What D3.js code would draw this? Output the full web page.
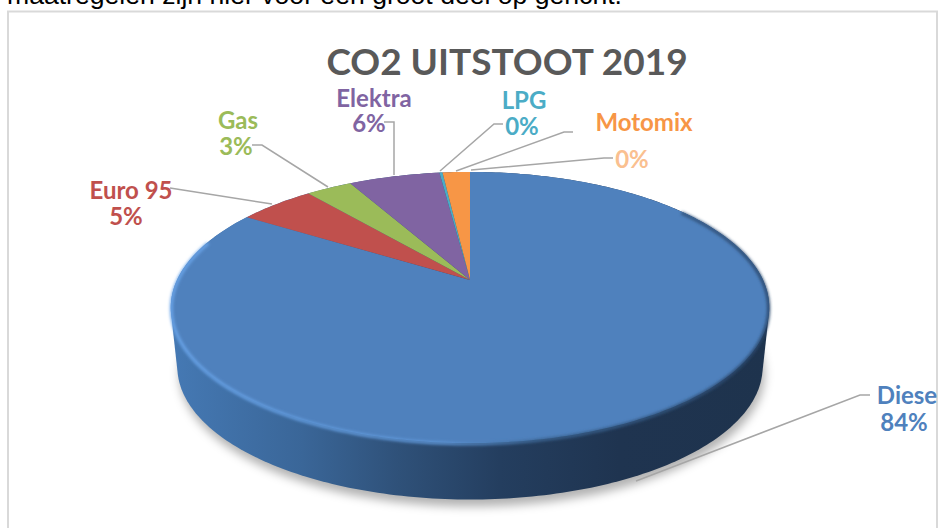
<!DOCTYPE html>
<html>
<head>
<meta charset="utf-8">
<script src="https://cdn.jsdelivr.net/npm/d3@7"></script>
<style>
  html, body { margin: 0; padding: 0; background: #fff; overflow: hidden; }
</style>
</head>
<body>
<svg id="chart" width="939" height="528"></svg>
<script>
// Data
const categories = ['Diesel', 'Euro 95', 'Gas', 'Elektra', 'LPG', 'Motomix'];
const values = [84, 5, 3, 6, 0.2, 1.8];
const colors = ['#4f81bd', '#c0504d', '#9bbb59', '#8064a2', '#4bacc6', '#f79646'];

const chartTitle = 'CO2 UITSTOOT 2019';
const bodyText = 'maatregelen zijn hier voor een groot deel op gericht.';

// Label lines: [text, colour, centre x, baseline y]
const labelLines = [
  ['Diesel', '#4f81bd', 910, 404],
  ['84%', '#4f81bd', 904, 431],
  ['Euro 95', '#c0504d', 131, 199],
  ['5%', '#c0504d', 126, 225],
  ['Gas', '#9bbb59', 238, 129],
  ['3%', '#9bbb59', 236, 155],
  ['Elektra', '#8064a2', 374, 107],
  ['6%', '#8064a2', 369, 132],
  ['LPG', '#4bacc6', 524, 109],
  ['0%', '#4bacc6', 522, 135],
  ['Motomix', '#f79646', 644, 131],
  ['0%', '#fac090', 632, 168]
];

// Leader lines from the labels to the slices
const leaders = [
  [[170, 188], [272, 204]],
  [[252, 145], [262, 145], [328, 187]],
  [[384, 122], [394, 122], [394, 175]],
  [[503, 124], [494, 124], [440, 171]],
  [[573, 132], [564, 132], [456, 171]],
  [[613, 158], [604, 158], [471, 170]],
  [[870, 395], [860, 395], [636, 481]]
];

// Shading of the side wall, left to right
const wallStops = [
  [0, '#4579b4'],
  [0.22, '#3a6698'],
  [0.38, '#2f5179'],
  [0.55, '#243e5f'],
  [0.75, '#1f3450'],
  [1, '#1e334d']
];

const svg = d3.select('#chart');
const defs = svg.append('defs');

// Perspective projection of the pie: angle 0 is up, clockwise
const cx = 470, cy = 280;
const scaleX = 293, scaleY = 130, tilt = 0.203;
const depth = 60, bottomScale = 0.978;

function project(angle, shift, scale) {
  const u = Math.sin(angle), v = Math.cos(angle);
  const w = 1 + tilt * v;
  return [cx + scale * scaleX * u / w, cy + shift - scale * scaleY * v / w];
}

const tau = Math.PI * 2;
const step = tau / 360;
const line = d3.line();

function rim(a0, a1, shift, scale) {
  const n = Math.max(2, Math.ceil((a1 - a0) / step));
  return d3.range(n + 1).map(i => project(a0 + (a1 - a0) * i / n, shift, scale));
}

// Gradients and blurs
const wallGrad = defs.append('linearGradient')
  .attr('id', 'wallGrad')
  .attr('gradientUnits', 'userSpaceOnUse')
  .attr('x1', cx - 299).attr('x2', cx + 299).attr('y1', 0).attr('y2', 0);
wallGrad.selectAll('stop').data(wallStops).join('stop')
  .attr('offset', d => d[0])
  .attr('stop-color', d => d[1]);

const bevelGrad = defs.append('linearGradient')
  .attr('id', 'bevelGrad')
  .attr('gradientUnits', 'userSpaceOnUse')
  .attr('x1', cx - 299).attr('x2', cx + 299).attr('y1', 0).attr('y2', 0);
bevelGrad.append('stop').attr('offset', 0).attr('stop-color', '#6aa5ea');
bevelGrad.append('stop').attr('offset', 0.45).attr('stop-color', '#5f97d8');
bevelGrad.append('stop').attr('offset', 0.62).attr('stop-color', '#3b6593');
bevelGrad.append('stop').attr('offset', 1).attr('stop-color', '#2a476c');

defs.append('filter').attr('id', 'shadowBlur')
  .attr('x', '-10%').attr('y', '-10%').attr('width', '120%').attr('height', '120%')
  .append('feGaussianBlur').attr('stdDeviation', 5);
defs.append('filter').attr('id', 'bevelBlur')
  .attr('x', '-5%').attr('y', '-5%').attr('width', '110%').attr('height', '110%')
  .append('feGaussianBlur').attr('stdDeviation', 1.4);

defs.append('clipPath').attr('id', 'frameClip')
  .append('rect').attr('x', 0).attr('y', 0).attr('width', 937).attr('height', 528);

// Text running above the chart
svg.append('text')
  .attr('x', 7)
  .attr('y', 4)
  .attr('font-family', '"Liberation Sans", Arial, sans-serif')
  .attr('font-size', 26.6)
  .attr('fill', '#000')
  .text(bodyText);

// Chart frame
svg.append('rect')
  .attr('x', 8).attr('y', 11.5)
  .attr('width', 929).attr('height', 540)
  .attr('fill', '#fff')
  .attr('stroke', '#d9d9d9')
  .attr('stroke-width', 2);

// Title
svg.append('text')
  .attr('x', 507)
  .attr('y', 75)
  .attr('text-anchor', 'middle')
  .attr('font-family', 'Lato, sans-serif')
  .attr('font-weight', 700)
  .attr('font-size', 37)
  .attr('fill', '#595959')
  .text(chartTitle);

// Outline of the whole disc, top and bottom together
const topRing = rim(0, tau, 0, 1);
const bottomRing = rim(0, tau, depth, bottomScale);
const hull = d3.polygonHull(topRing.concat(bottomRing));

// Soft shadow under the disc
svg.append('path')
  .attr('d', line(bottomRing.map(p => [p[0] + 2, p[1] + 7])) + 'Z')
  .attr('fill', '#000')
  .attr('fill-opacity', 0.3)
  .attr('filter', 'url(#shadowBlur)');

// Side wall
svg.append('path')
  .attr('d', line(hull) + 'Z')
  .attr('fill', 'url(#wallGrad)');

// Slices on the top face
const pie = d3.pie().value(d => d).sort(null);
const slices = pie(values);

svg.append('g')
  .selectAll('path')
  .data(slices)
  .join('path')
  .attr('d', d => line([[cx, cy]].concat(rim(d.startAngle, d.endAngle, 0, 1))) + 'Z')
  .attr('fill', (d, i) => colors[i]);

// Rounded front edge of the disc
svg.append('path')
  .attr('d', line(rim(tau * 0.15, tau * 0.8, 1, 0.998)))
  .attr('fill', 'none')
  .attr('stroke', 'url(#bevelGrad)')
  .attr('stroke-width', 3)
  .attr('filter', 'url(#bevelBlur)');

// Leader lines
svg.append('g')
  .selectAll('path')
  .data(leaders)
  .join('path')
  .attr('d', d => line(d))
  .attr('fill', 'none')
  .attr('stroke', '#a6a6a6')
  .attr('stroke-width', 1.5);

// Data labels
svg.append('g')
  .attr('clip-path', 'url(#frameClip)')
  .selectAll('text')
  .data(labelLines)
  .join('text')
  .attr('x', d => d[2])
  .attr('y', d => d[3])
  .attr('text-anchor', 'middle')
  .attr('font-family', 'Lato, sans-serif')
  .attr('font-weight', 700)
  .attr('font-size', 24)
  .attr('fill', d => d[1])
  .text(d => d[0]);
</script>
</body>
</html>
